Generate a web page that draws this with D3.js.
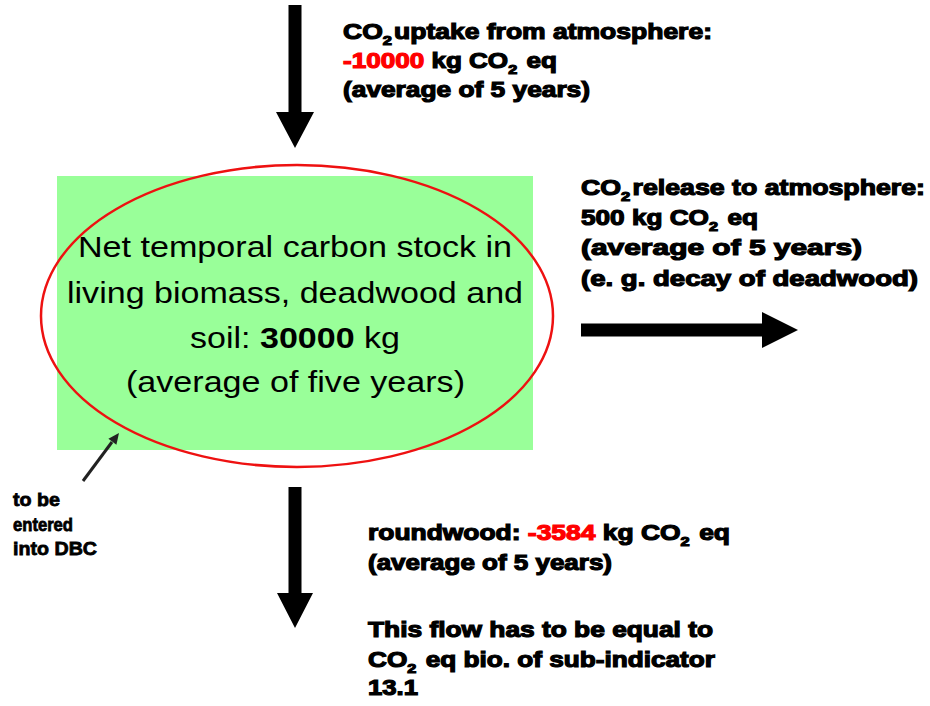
<!DOCTYPE html>
<html lang="en">
<head>
<meta charset="utf-8">
<title>carbon_flows</title>
<script src="https://cdn.jsdelivr.net/npm/d3@7"></script>
<style>
  body { margin: 0; background: #fff; }
  text { font-family: "Liberation Sans", Arial, sans-serif; }
  .flow { font-weight: bold; font-size: 22px; stroke: #000; stroke-width: 1.2px; }
  .note { font-weight: bold; font-size: 19px; stroke: #000; stroke-width: 0.8px; }
  .stock { font-size: 29px; }
</style>
</head>
<body>
<script>
var w = 930, h = 706;

// values shown in the diagram
var flowNames = ["uptake", "release", "roundwood"];
var flowValues = [-10000, 500, -3584];
var stockValue = 30000;
var avgYears = 5;
var noteLines = ["to be", "entered", "into DBC"];

var svg = d3.select("body").append("svg")
    .attr("width", w)
    .attr("height", h);

svg.append("rect").attr("width", w).attr("height", h).attr("fill", "#fff");

// draws a block arrow as a filled polygon
function blockArrow(x1, y1, x2, y2, shaft, headW, headL) {
    var len = Math.hypot(x2 - x1, y2 - y1);
    var ang = Math.atan2(y2 - y1, x2 - x1) * 180 / Math.PI;
    var b = len - headL;
    var pts = [[0, -shaft / 2], [b, -shaft / 2], [b, -headW / 2], [len, 0],
               [b, headW / 2], [b, shaft / 2], [0, shaft / 2]];
    svg.append("path")
        .attr("d", d3.line()(pts) + "Z")
        .attr("fill", "#000")
        .attr("transform", "translate(" + x1 + "," + y1 + ") rotate(" + ang + ")");
}

// green stock box and red ellipse
svg.append("rect")
    .attr("x", 57).attr("y", 176)
    .attr("width", 476).attr("height", 274)
    .attr("fill", "#99ff99");

svg.append("ellipse")
    .attr("cx", 297).attr("cy", 316)
    .attr("rx", 256).attr("ry", 151)
    .attr("fill", "none")
    .attr("stroke", "#ee1111")
    .attr("stroke-width", 2.5);

// one line of text made of styled pieces, stretched to a given width
function textLine(g, x, y, cls, parts, width) {
    var t = g.append("text").attr("x", x).attr("y", y).attr("class", cls);
    parts.forEach(function(p) {
        if (p.sub) {
            t.append("tspan").attr("dy", 6).attr("font-size", "0.62em").text(p.t);
            t.append("tspan").attr("dy", -6).text("\u200a");
        } else {
            var s = t.append("tspan").text(p.t);
            if (p.red) s.attr("fill", "#ff0000").attr("stroke", "#ff0000");
            if (p.bold) s.attr("font-weight", "bold");
        }
    });
    if (width) t.attr("textLength", width).attr("lengthAdjust", "spacingAndGlyphs");
    return t;
}

var fmt = function(v) { return String(v); };
var avgLine = [{t: "(average of " + avgYears + " years)"}];

var g = svg.append("g");

// stock text inside ellipse
textLine(g, 78, 257, "stock", [{t: "Net temporal carbon stock in"}], 434);
textLine(g, 67, 303, "stock", [{t: "living biomass, deadwood and"}], 456);
textLine(g, 190, 348, "stock", [{t: "soil: "}, {t: fmt(stockValue), bold: true}, {t: " kg"}], 210);
textLine(g, 126, 392, "stock", [{t: "(average of five years)"}], 339);

// uptake
textLine(g, 343, 39, "flow", [{t: "CO"}, {t: "2", sub: true}, {t: "uptake from atmosphere:"}], 369);
textLine(g, 343, 68, "flow", [{t: fmt(flowValues[0]), red: true}, {t: " kg CO"}, {t: "2", sub: true}, {t: " eq"}], 214);
textLine(g, 343, 97, "flow", avgLine, 247);

// release
textLine(g, 581, 195, "flow", [{t: "CO"}, {t: "2", sub: true}, {t: "release to atmosphere:"}], 344);
textLine(g, 581, 225, "flow", [{t: fmt(flowValues[1]) + " kg CO"}, {t: "2", sub: true}, {t: " eq"}], 177);
textLine(g, 581, 255, "flow", avgLine, 281);
textLine(g, 581, 286, "flow", [{t: "(e. g. decay of deadwood)"}], 337);

// roundwood
textLine(g, 368, 540, "flow", [{t: flowNames[2] + ": "}, {t: fmt(flowValues[2]), red: true}, {t: " kg CO"}, {t: "2", sub: true}, {t: " eq"}], 362);
textLine(g, 368, 570, "flow", avgLine, 244);
textLine(g, 368, 637, "flow", [{t: "This flow has to be equal to"}], 345);
textLine(g, 368, 667, "flow", [{t: "CO"}, {t: "2", sub: true}, {t: " eq bio. of sub-indicator"}], 347);
textLine(g, 368, 695, "flow", [{t: "13.1"}], 50);

// note
var noteW = [47, 60, 84];
noteLines.forEach(function(s, i) {
    textLine(g, 13, 506 + i * 24.5, "note", [{t: s}], noteW[i]);
});

// arrows
blockArrow(295, 5, 295, 148, 13, 38, 36);
blockArrow(581, 330, 798, 330, 13, 36, 36);
blockArrow(295, 487, 295, 628, 13, 36, 35);

// small pointer arrow
svg.append("line")
    .attr("x1", 83).attr("y1", 481).attr("x2", 112).attr("y2", 442)
    .attr("stroke", "#222").attr("stroke-width", 3);
svg.append("path")
    .attr("d", "M0,0L-11,-5L-11,5Z")
    .attr("fill", "#222")
    .attr("transform", "translate(119,433) rotate(" + (Math.atan2(433 - 481, 119 - 83) * 180 / Math.PI) + ")");
</script>
</body>
</html>
